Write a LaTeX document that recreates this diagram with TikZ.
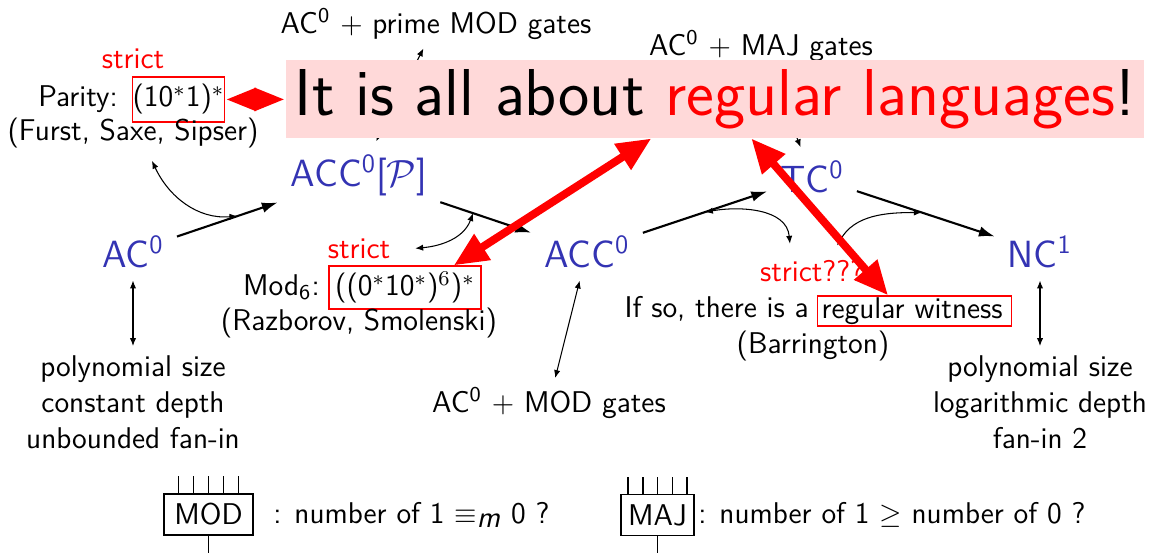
\documentclass[tikz,border=0pt]{standalone}
\usetikzlibrary{arrows.meta}
\definecolor{cblue}{RGB}{51,51,179}
\begin{document}
\begin{tikzpicture}[x=0.38pt,y=0.38pt,
  every node/.style={font=\sffamily\fontsize{11.4}{13.7}\selectfont, text=black},
  cls/.style={font=\sffamily\fontsize{14.4}{17}\selectfont, text=cblue, inner sep=4.8pt},
  arr/.style={line width=0.8pt,-{Latex[length=6pt,width=4pt]}},
  thin2/.style={line width=0.4pt,{Latex[length=3pt,width=2.4pt]}-{Latex[length=3pt,width=2.4pt]}},
  redarr/.style={draw=red, line width=3pt, {Triangle[length=13pt,width=11pt]}-{Triangle[length=13pt,width=11pt]}},
  redarrs/.style={draw=red, line width=3pt, {Triangle[length=11.8pt,width=8pt]}-{Triangle[length=11.8pt,width=8pt]}},
  rbox/.style={draw=red, line width=0.5pt, inner sep=0pt},
  gate/.style={draw=black, line width=0.6pt, inner sep=0pt, minimum height=15.6pt},
  wire/.style={line width=0.6pt},
]
\useasboundingbox (0,0) rectangle (1150,-552);

% classes
\node[cls, anchor=base] (ac0) at (133,-267) {AC\textsuperscript{0}};
\node[cls, anchor=base] (accp) at (359,-186) {ACC\textsuperscript{0}[$\mathcal{P}$]};
\node[cls, anchor=base] (acc) at (587,-267) {ACC\textsuperscript{0}};
\node[cls, anchor=base] (tc) at (812,-192) {TC\textsuperscript{0}};
\node[cls, anchor=base] (nc) at (1040,-267) {NC\textsuperscript{1}};

% labels
\node[anchor=base] (prime) at (436,-33) {AC\textsuperscript{0} $+$ prime MOD gates};
\node[anchor=base] (majl) at (761,-55) {AC\textsuperscript{0} $+$ MAJ gates};

\node[anchor=base, text=red] (pstrict) at (133,-68) {strict};
\node[anchor=base east] (parity) at (127,-106) {Parity:};
\node[rbox, minimum width=34.6pt, minimum height=17.1pt] (pbox) at (178.5,-99.5) {(10$^*$1)$^*$};
\node[anchor=base] (furst) at (133,-140) {(Furst, Saxe, Sipser)};

\node[anchor=base, text=red] (mstrict) at (359,-258) {strict};
\node[anchor=base east] (modsix) at (329,-295) {Mod\textsubscript{6}:};
\node[rbox, minimum width=57.8pt, minimum height=16.3pt] (mbox) at (405,-287.5) {((0$^*$10$^*$)$^6$)$^*$};
\node[anchor=base] (razb) at (359,-330) {(Razborov, Smolenski)};

\node[anchor=base, text=red] (sq) at (812,-281) {strict???};
\node[anchor=base east] (ifso) at (818,-317) {If so, there is a};
\node[rbox, anchor=west, minimum height=11.4pt, inner xsep=1.5pt, text width=70.7pt, align=left] (rw) at (817,-311) {regular witness};
\node[anchor=base] (barr) at (813,-353) {(Barrington)};

\node[anchor=base] (modg) at (549,-412) {AC\textsuperscript{0} $+$ MOD gates};

\node[align=center, anchor=north] (polyl) at (133,-346) {polynomial size\\constant depth\\unbounded fan-in};
\node[align=center, anchor=north] (polyr) at (1040,-346) {polynomial size\\logarithmic depth\\fan-in 2};

% main arrows
\draw[arr] (ac0) -- coordinate[pos=0.6] (m1) (accp);
\draw[arr] (accp) -- coordinate[pos=0.36] (m2) (acc);
\draw[arr] (acc) -- coordinate[pos=0.5] (m3) (tc);
\draw[arr] (tc) -- coordinate[pos=0.47] (m4) (nc);

% strictness curves
\draw[thin2] ([xshift=7.2pt,yshift=-1.5pt]furst.south) to[out=-65,in=185] (m1);
\draw[thin2] ([xshift=6pt]mstrict.east) to[out=5,in=-110] (m2);
\draw[thin2] (m3) to[out=10,in=95] ([xshift=-8.4pt,yshift=2.6pt]sq.north);
\draw[thin2] ([xshift=9.5pt,yshift=1.9pt]sq.north) to[out=60,in=180] (m4);

% vertical explanations
\draw[thin2] (ac0) -- (polyl);
\draw[thin2] (acc) -- (modg);
\draw[thin2] (nc) -- (polyr);
\draw[thin2] (accp) -- (prime);
\draw[thin2] (tc) -- (majl);

% banner
\node[fill=red!15, minimum width=326pt, minimum height=29.6pt, inner sep=0pt,
      font=\sffamily\fontsize{25.2}{30}\selectfont] (banner) at (715,-99)
      {It is all about \textcolor{red}{regular languages}!};

\draw[redarrs] (pbox) -- (banner);
\draw[redarr] ([xshift=139pt]banner.south west) -- ([xshift=-10.6pt]mbox.north east);
\draw[redarr] ([xshift=177pt]banner.south west) -- ([xshift=27pt]rw.north west);

% gates
\node[gate, minimum width=33.8pt] (modgate) at (208.5,-514.5) {MOD};
\foreach \dx in {-11.4,-5.7,0,5.7,11.4}
  \draw[wire] ([xshift=\dx pt]modgate.north) -- ++(0,17);
\draw[wire] (modgate.south) -- ++(0,-20);
\node[anchor=base west] (modtxt) at (264,-523) {: number of 1 $\equiv_{\textsf{\itshape m}}$ 0 ?};

\node[gate, minimum width=27.7pt] (majgate) at (657.5,-515) {MAJ};
\foreach \dx in {-11.2,-5.6,0,5.7,11.2}
  \draw[wire] ([xshift=\dx pt]majgate.north) -- ++(0,17);
\draw[wire] (majgate.south) -- ++(0,-20);
\node[anchor=base west] (majtxt) at (689,-523) {: number of 1 $\geq$ number of 0 ?};
\end{tikzpicture}
\end{document}
